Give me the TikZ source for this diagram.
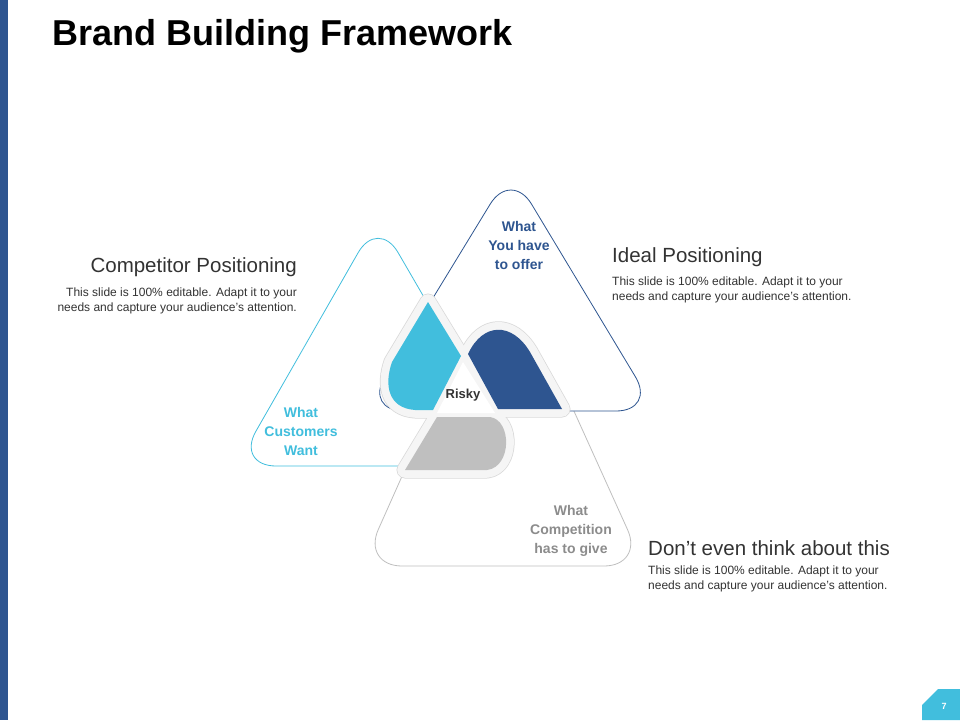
\documentclass[tikz,border=0pt]{standalone}
\usepackage{fontspec}
\setmainfont{Liberation Sans}
\definecolor{cy}{HTML}{41BEDD}
\definecolor{nb}{HTML}{2E5590}
\definecolor{gr}{HTML}{BFBFBF}
\definecolor{gt}{HTML}{8C8C8C}
\definecolor{tx}{HTML}{333333}
\begin{document}
\begin{tikzpicture}[x=1pt,y=-1pt,
  tri/.style={fill=white,rounded corners=40pt,line width=0.8pt},
  lab/.style={font=\fontsize{14}{19}\selectfont\bfseries,align=center},
  head/.style={font=\fontsize{20.5}{23}\selectfont,text=tx,inner sep=0},
  body/.style={font=\fontsize{12}{15}\selectfont,text=tx,inner sep=0},
  haloA/.style={draw=gray!30,line width=17pt,line join=round},
  haloB/.style={draw=gray!8,line width=15.5pt,line join=round}]
\useasboundingbox (0,0) rectangle (960,720);
\fill[white] (0,0) rectangle (960,720);
\fill[nb] (0,0) rectangle (8,720);
\node[anchor=west,font=\fontsize{36}{38}\selectfont\bfseries,inner sep=0] (title) at (52,36) {Brand Building Framework};
% triangles
\draw[tri,draw=cy] (236,466) -- (522,466) -- (378,218) -- cycle;
\draw[tri,draw=gr] (362,566) -- (644,566) -- (502,252) -- cycle;
\draw[tri,draw=nb] (364,411) -- (656,411) -- (511,170) -- cycle;
% lobes
\def\cyl{(428,302) -- (461,356) -- (433,410) -- (415,410) .. controls (388,408) and (384,385) .. (392,362) -- cycle}
\def\bll{(468,354) -- (498,409) -- (562,409) -- (530,352) .. controls (512,322) and (483,322) .. cycle}
\def\grl{(437,417) -- (490,417) .. controls (512,420) and (512,467) .. (487,470) -- (405,470) -- cycle}
\draw[haloA] \cyl; \draw[haloA] \bll; \draw[haloA] \grl;
\draw[haloA] (440,412) -- (463,360) -- (492,412) -- cycle;
\draw[haloB] \cyl; \draw[haloB] \bll; \draw[haloB] \grl;
\draw[haloB,fill=gray!8] (440,412) -- (463,360) -- (492,412) -- cycle;
\fill[white] (437,413) -- (463,362) -- (495,413) -- cycle;
\fill[cy] \cyl; \fill[nb] \bll; \fill[gr] \grl;
\node[font=\fontsize{13}{15}\selectfont\bfseries,text=tx] (risky) at (463,395) {Risky};
% labels
\node[lab,text=nb] (l1) at (519,245) {What\\You have\\to offer};
\node[lab,text=cy] (l2) at (301,431) {What\\Customers\\Want};
\node[lab,text=gt] (l3) at (571,531) {What\\Competition\\has to give};
% texts
\node[head,anchor=east] (h1) at (297,267) {Competitor Positioning};
\node[body,anchor=north east,align=right] (b1) at (297,288) {This slide is 100\% editable. Adapt it to your\\needs and capture your audience's attention.};
\node[head,anchor=west] (h2) at (612,257) {Ideal Positioning};
\node[body,anchor=north west,align=left] (b2) at (612,277) {This slide is 100\% editable. Adapt it to your\\needs and capture your audience's attention.};
\node[head,anchor=west] (h3) at (648,548) {Don’t even think about this};
\node[body,anchor=north west,align=left] (b3) at (648,566) {This slide is 100\% editable. Adapt it to your\\needs and capture your audience's attention.};
% page number
\fill[cy] (922,720) -- (922,705) -- (938,689) -- (960,689) -- (960,720) -- cycle;
\node[text=white,font=\fontsize{9}{10}\selectfont\bfseries] (pg) at (944,706) {7};
\end{tikzpicture}
\end{document}
